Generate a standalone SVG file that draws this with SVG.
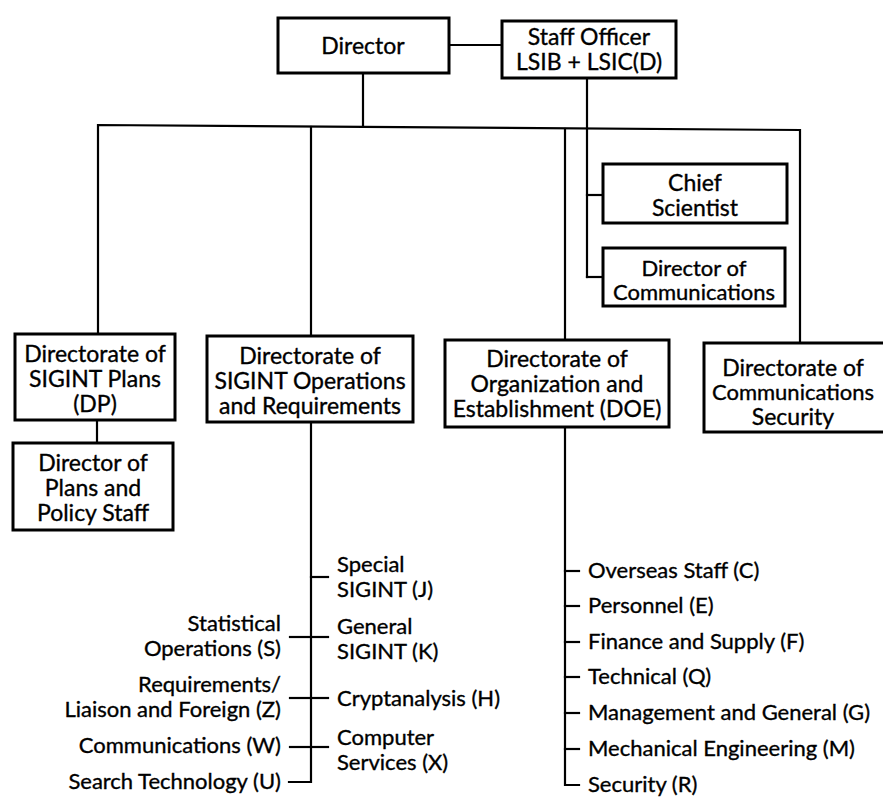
<svg xmlns="http://www.w3.org/2000/svg" width="883" height="798" viewBox="0 0 883 798">
  <style>
    .box { fill: #ffffff; stroke: #000000; stroke-width: 3; }
    .wire { fill: none; stroke: #000000; stroke-width: 2.2; stroke-linecap: square; }
    text { font-family: Lato, "Open Sans", "Liberation Sans", sans-serif; font-size: 22px; fill: #000000; stroke: #000000; stroke-width: 0.35; }
    .big { font-size: 23px; }
    .c { text-anchor: middle; }
    .e { text-anchor: end; }
    .s { text-anchor: start; }
  </style>
  <rect width="883" height="798" fill="#ffffff"/>

  <!-- connectors -->
  <g id="connectors" class="wire">
    <line x1="449" y1="45" x2="502" y2="45"/>
    <line x1="363" y1="73" x2="363" y2="126"/>
    <polyline points="98,334 98,125 800,130 800,343"/>
    <line x1="311" y1="127" x2="311" y2="336"/>
    <line x1="565" y1="129" x2="565" y2="340"/>
    <line x1="587" y1="78" x2="587" y2="277"/>
    <line x1="587" y1="195" x2="603" y2="195"/>
    <line x1="587" y1="277" x2="603" y2="277"/>
    <line x1="97" y1="420" x2="97" y2="443"/>
    <!-- SIGINT operations branches -->
    <polyline points="311,422 311,782 289,782"/>
    <line x1="311" y1="577" x2="328" y2="577"/>
    <line x1="311" y1="637" x2="328" y2="637"/>
    <line x1="311" y1="698" x2="328" y2="698"/>
    <line x1="311" y1="747" x2="328" y2="747"/>
    <line x1="290" y1="637" x2="311" y2="637"/>
    <line x1="290" y1="698" x2="311" y2="698"/>
    <line x1="290" y1="747" x2="311" y2="747"/>
    <!-- organization and establishment branches -->
    <polyline points="565,427 565,785 579,785"/>
    <line x1="565" y1="571" x2="579" y2="571"/>
    <line x1="565" y1="606" x2="579" y2="606"/>
    <line x1="565" y1="642" x2="579" y2="642"/>
    <line x1="565" y1="677" x2="579" y2="677"/>
    <line x1="565" y1="713" x2="579" y2="713"/>
    <line x1="565" y1="749" x2="579" y2="749"/>
  </g>

  <g id="director">
    <rect class="box" x="278" y="18" width="171" height="55"/>
    <text class="c big" x="363" y="54">Director</text>
  </g>
  <g id="staff-officer">
    <rect class="box" x="502" y="21" width="174" height="57"/>
    <text class="c big" x="589" y="45">Staff Officer</text>
    <text class="c big" x="589" y="70">LSIB + LSIC(D)</text>
  </g>
  <g id="chief-scientist">
    <rect class="box" x="603" y="164" width="184" height="59"/>
    <text class="c big" x="695" y="191">Chief</text>
    <text class="c big" x="695" y="216">Scientist</text>
  </g>
  <g id="director-communications">
    <rect class="box" x="603" y="248" width="182" height="58"/>
    <text class="c" x="694" y="276">Director of</text>
    <text class="c" x="694" y="300">Communications</text>
  </g>
  <g id="sigint-plans">
    <rect class="box" x="15" y="334" width="160" height="86"/>
    <text class="c big" x="95" y="362">Directorate of</text>
    <text class="c big" x="95" y="387">SIGINT Plans</text>
    <text class="c big" x="95" y="412">(DP)</text>
  </g>
  <g id="plans-policy-staff">
    <rect class="box" x="13" y="443" width="160" height="87"/>
    <text class="c big" x="93" y="471">Director of</text>
    <text class="c big" x="93" y="496">Plans and</text>
    <text class="c big" x="93" y="521">Policy Staff</text>
  </g>
  <g id="sigint-operations">
    <rect class="box" x="207" y="336" width="206" height="86"/>
    <text class="c big" x="310" y="364">Directorate of</text>
    <text class="c big" x="310" y="389">SIGINT Operations</text>
    <text class="c big" x="310" y="414">and Requirements</text>
  </g>
  <g id="organization-establishment">
    <rect class="box" x="445" y="340" width="224" height="87"/>
    <text class="c big" x="557" y="367">Directorate of</text>
    <text class="c big" x="557" y="392">Organization and</text>
    <text class="c big" x="557" y="417">Establishment (DOE)</text>
  </g>
  <g id="communications-security">
    <rect class="box" x="704" y="343" width="185" height="89"/>
    <text class="c big" x="793" y="376">Directorate of</text>
    <text class="c" x="793" y="400">Communications</text>
    <text class="c big" x="793" y="425">Security</text>
  </g>

  <g id="operations-divisions">
    <text class="s" x="337" y="572">Special</text>
    <text class="s" x="337" y="597">SIGINT (J)</text>
    <text class="s" x="337" y="634">General</text>
    <text class="s" x="337" y="659">SIGINT (K)</text>
    <text class="s" x="337" y="706">Cryptanalysis (H)</text>
    <text class="s" x="337" y="745">Computer</text>
    <text class="s" x="337" y="770">Services (X)</text>
    <text class="e" x="281" y="631">Statistical</text>
    <text class="e" x="281" y="656">Operations (S)</text>
    <text class="e" x="281" y="692">Requirements/</text>
    <text class="e" x="281" y="717">Liaison and Foreign (Z)</text>
    <text class="e" x="281" y="753">Communications (W)</text>
    <text class="e" x="281" y="789">Search Technology (U)</text>
  </g>
  <g id="establishment-divisions">
    <text class="s" x="588" y="578">Overseas Staff (C)</text>
    <text class="s" x="588" y="613">Personnel (E)</text>
    <text class="s" x="588" y="649">Finance and Supply (F)</text>
    <text class="s" x="588" y="684">Technical (Q)</text>
    <text class="s" x="588" y="720">Management and General (G)</text>
    <text class="s" x="588" y="756">Mechanical Engineering (M)</text>
    <text class="s" x="588" y="792">Security (R)</text>
  </g>
</svg>
